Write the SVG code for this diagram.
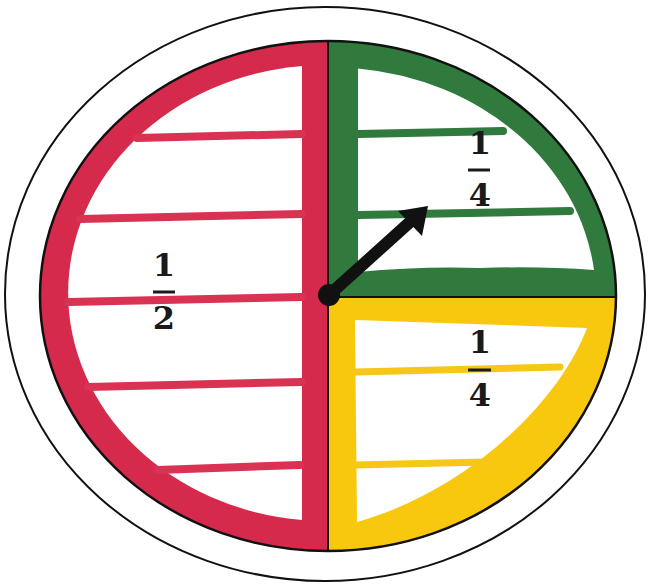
<svg xmlns="http://www.w3.org/2000/svg" width="649" height="585" viewBox="0 0 649 585">
<style>
.red{fill:#d52a4c}
.green{fill:#2f7a3c}
.yellow{fill:#f8c80f}
.white{fill:#ffffff}
.rung-r{stroke:#d93252;stroke-width:8;stroke-linecap:round;fill:none}
.rung-g{stroke:#2f7a3c;stroke-width:8;stroke-linecap:round;fill:none}
.rung-y{stroke:#f6c716;stroke-width:7;stroke-linecap:round;fill:none}
.outline{fill:none;stroke:#111;stroke-width:2.5}
.num{font-family:"DejaVu Serif","Liberation Serif",serif;font-weight:bold;font-size:32px;fill:#1a1a1a;text-anchor:middle}
.bar{stroke:#1a1a1a;stroke-width:3}
</style>
<rect width="649" height="585" fill="#ffffff"/>
<ellipse cx="325" cy="294" rx="320" ry="287" fill="none" stroke="#111" stroke-width="2"/>
<g id="half">
<path class="red" d="M328,41 A288,255 0 0 0 328,551 Z"/>
<path class="white" d="M302,66 A258,228 0 0 0 302,520 Z"/>
<path class="rung-r" d="M137,138 L302,134"/>
<path class="rung-r" d="M80,219 L302,214"/>
<path class="rung-r" d="M68,302 L302,297"/>
<path class="rung-r" d="M88,387 L302,382"/>
<path class="rung-r" d="M158,470 L300,465"/>
<text class="num" x="164" y="276">1</text>
<line class="bar" x1="153" y1="292" x2="175" y2="292"/>
<text class="num" x="164" y="329">2</text>
</g>
<g id="quarter-top">
<path class="green" d="M328,297 L328,41 A288,255 0 0 1 616,297 Z"/>
<path class="white" d="M358,68.5 A266,230 0 0 1 594,270 Q540,266 480,268 Q420,266 358,272 Z"/>
<path class="rung-g" d="M358,134 L503,131"/>
<path class="rung-g" d="M358,215 L570,211"/>
<text class="num" x="480" y="154">1</text>
<line class="bar" x1="468" y1="170" x2="490" y2="170"/>
<text class="num" x="480" y="206">4</text>
</g>
<g id="quarter-bottom">
<path class="yellow" d="M328,297 L616,297 A288,255 0 0 1 328,551 Z"/>
<path class="white" d="M355,320 L587,328 C560,400 470,490 357,522 Z"/>
<path class="rung-y" d="M355,372 L560,367"/>
<path class="rung-y" d="M355,465 L486,462"/>
<text class="num" x="480" y="353">1</text>
<line class="bar" x1="468" y1="370" x2="491" y2="370"/>
<text class="num" x="480" y="406">4</text>
</g>
<g id="dividers">
<ellipse class="outline" cx="328" cy="296" rx="288" ry="255"/>
<line x1="328" y1="41" x2="328" y2="551" stroke="#111" stroke-width="2"/>
<line x1="328" y1="297" x2="616" y2="297" stroke="#111" stroke-width="2"/>
</g>
<g id="hand">
<line x1="329" y1="295" x2="410" y2="222" stroke="#111" stroke-width="12"/>
<polygon points="428,206 398,211 422,236" fill="#111"/>
<circle cx="329" cy="295" r="11" fill="#111"/>
</g>
</svg>
